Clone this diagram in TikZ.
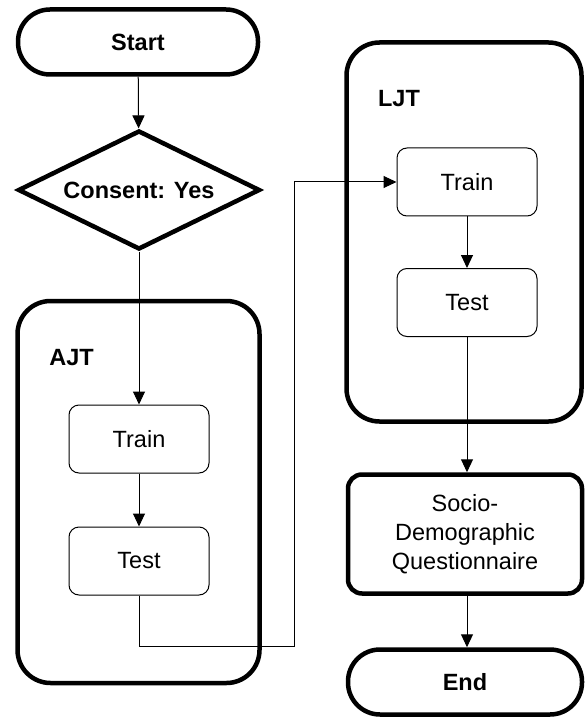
\documentclass[tikz,border=0pt]{standalone}
\usepackage{fontspec}
\setmainfont{Liberation Sans}
\usetikzlibrary{shapes.geometric,arrows.meta}

\begin{document}
\begin{tikzpicture}[x=1pt,y=-1pt,
  font=\fontsize{23.5}{29}\selectfont,
  terminal/.style={draw,line width=4.5pt,rounded corners=32pt,inner sep=0pt,
    minimum height=65pt,font=\fontsize{23.5}{29}\selectfont\bfseries},
  decision/.style={draw,diamond,aspect=2,line width=4.5pt,inner sep=0pt,
    minimum width=242pt,minimum height=119pt,font=\fontsize{23.5}{29}\selectfont\bfseries},
  group/.style={draw,line width=4.5pt,rounded corners=33pt,inner sep=0pt},
  grouplabel/.style={font=\fontsize{23.5}{29}\selectfont\bfseries},
  task/.style={draw,line width=1pt,rounded corners=10pt,inner sep=0pt,
    minimum width=140pt,minimum height=68pt},
  flow/.style={line width=1pt,-{Triangle[length=13pt,width=12pt]}}]
\useasboundingbox (0,0) rectangle (585,719);

% left column
\node[terminal,minimum width=240pt] (start) at (138,42) {Start};
\node[decision] (consent) at (139,190) {Consent: Yes};
\node[group,minimum width=242pt,minimum height=382pt] (ajt) at (138.5,492) {};
\node[grouplabel] (ajtlabel) at (71.5,358) {AJT};
\node[task] (ajttrain) at (139,439) {Train};
\node[task] (ajttest) at (139,561) {Test};

% right column
\node[group,minimum width=235pt,minimum height=379pt] (ljt) at (464,232) {};
\node[grouplabel] (ljtlabel) at (399,99) {LJT};
\node[task] (ljttrain) at (467,182) {Train};
\node[task] (ljttest) at (467,302.5) {Test};
\node[draw,line width=4.5pt,rounded corners=14pt,align=center,
  minimum width=234pt,minimum height=119pt] (socio) at (465,534)
  {Socio-\\Demographic\\Questionnaire};
\node[terminal,minimum width=234pt] (end) at (465,682) {End};

\coordinate (bend) at (294,646);

\draw[flow] (start) -- (consent);
\draw[flow] (consent) -- (ajttrain);
\draw[flow] (ajttrain) -- (ajttest);
\draw[flow] (ajttest.south) |- (bend) |- (ljttrain.west);
\draw[flow] (ljttrain) -- (ljttest);
\draw[flow] (ljttest.south) -- (ljttest.south |- socio.north);
\draw[flow] (ljttest.south |- socio.south) -- (ljttest.south |- end.north);
\end{tikzpicture}
\end{document}
